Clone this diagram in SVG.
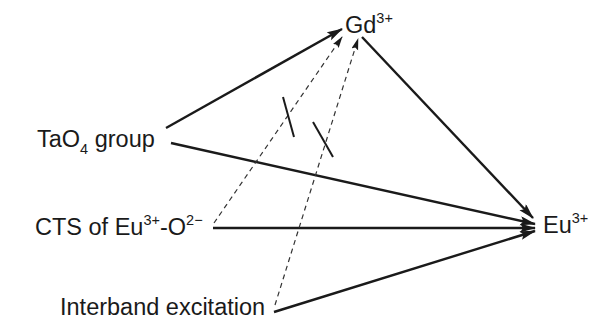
<svg xmlns="http://www.w3.org/2000/svg" width="614" height="334" viewBox="0 0 614 334">
<style>
text{font-family:"Liberation Sans",Arial,sans-serif;font-size:23.5px;fill:#1a1a1a}
.sup{font-size:14.5px}
.solid{stroke:#1a1a1a;stroke-width:2.4;fill:none}
.dash{stroke:#333;stroke-width:1.2;fill:none;stroke-dasharray:5 4}
.brk{stroke:#1a1a1a;stroke-width:2;fill:none}
</style>
<defs>
<marker id="ah" markerUnits="userSpaceOnUse" markerWidth="18" markerHeight="10" refX="15" refY="4.5" orient="auto">
<path d="M0,0 L16,4.5 L0,9 L3,4.5 z" fill="#1a1a1a"/>
</marker>
<marker id="ahd" markerUnits="userSpaceOnUse" markerWidth="14" markerHeight="8" refX="11" refY="3.5" orient="auto">
<path d="M0,0 L12,3.5 L0,7 L2,3.5 z" fill="#1a1a1a"/>
</marker>
</defs>
<g id="connectors">
<line class="solid" x1="166" y1="128" x2="342" y2="29" marker-end="url(#ah)"/>
<line class="solid" x1="362" y1="37" x2="533" y2="218" marker-end="url(#ah)"/>
<line class="solid" x1="171" y1="143" x2="535" y2="224" marker-end="url(#ah)"/>
<line class="solid" x1="213" y1="228" x2="535" y2="228" marker-end="url(#ah)"/>
<line class="solid" x1="274" y1="312" x2="535" y2="231" marker-end="url(#ah)"/>
<line class="dash" x1="214" y1="223" x2="342" y2="37" marker-end="url(#ahd)"/>
<line class="dash" x1="275" y1="305" x2="358" y2="39" marker-end="url(#ahd)"/>
<line class="brk" x1="283" y1="97" x2="294" y2="137"/>
<line class="brk" x1="313" y1="122" x2="333" y2="157"/>
</g>
<g id="gd"><text x="345" y="33">Gd<tspan class="sup" dy="-10">3+</tspan></text></g>
<g id="eu"><text x="543" y="233">Eu<tspan class="sup" dy="-10">3+</tspan></text></g>
<g id="tao4"><text x="37" y="147">TaO<tspan class="sup" dy="7">4</tspan><tspan dy="-7"> group</tspan></text></g>
<g id="cts"><text x="35" y="235">CTS of Eu<tspan class="sup" dy="-10">3+</tspan><tspan dy="10">-O</tspan><tspan class="sup" dy="-10">2−</tspan></text></g>
<g id="interband"><text x="60" y="315">Interband excitation</text></g>
</svg>
